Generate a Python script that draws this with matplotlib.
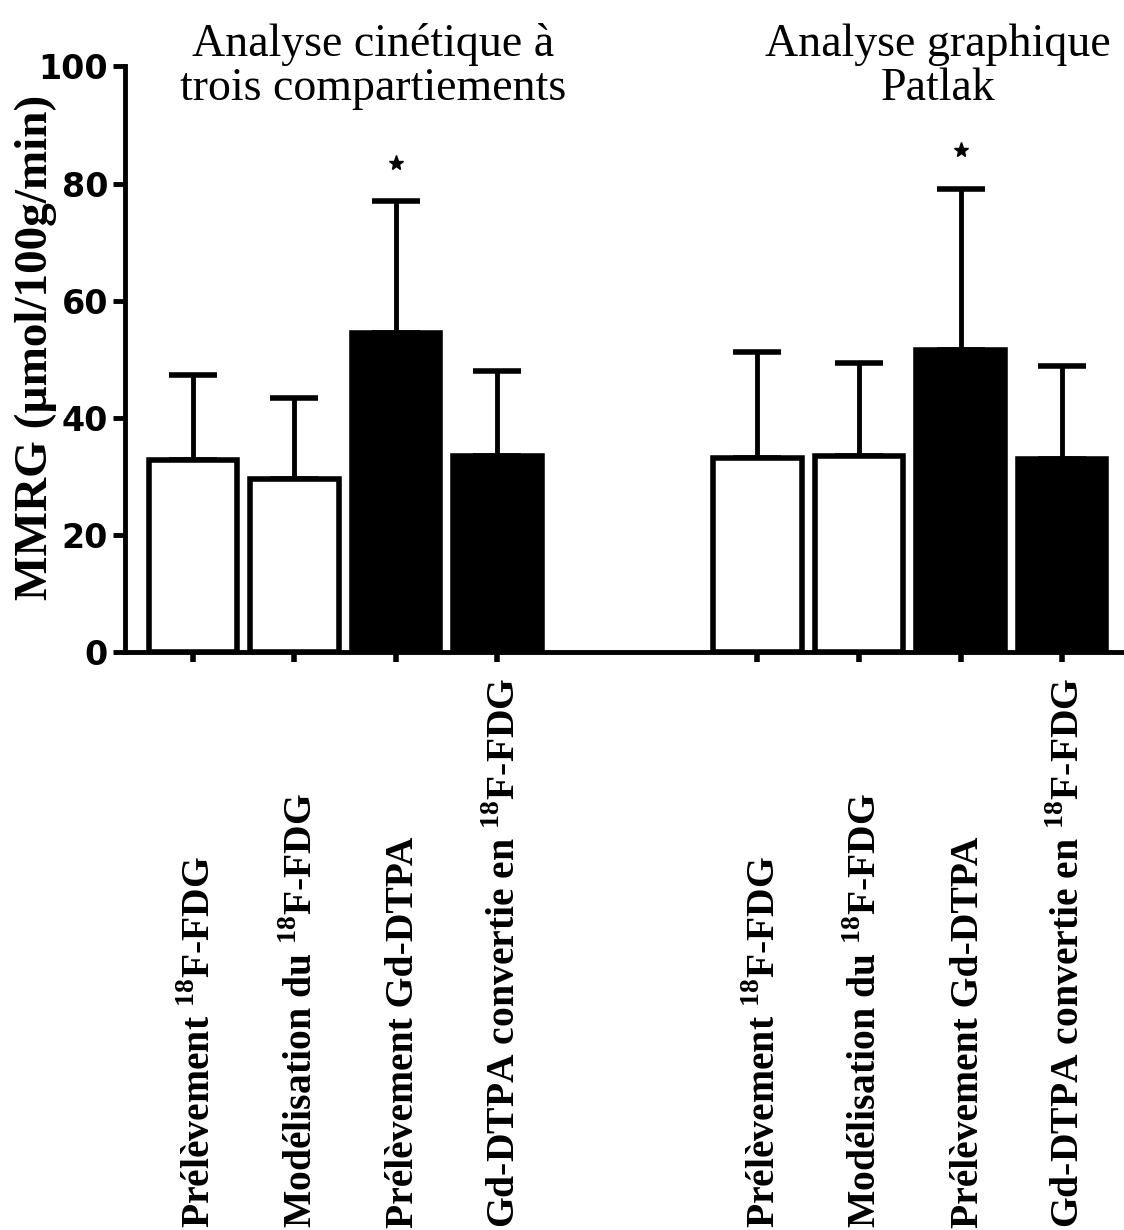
import numpy as np
import matplotlib
matplotlib.use("Agg")
import matplotlib.pyplot as plt
import matplotlib.transforms as mtransforms

# data (MMRG, µmol/100g/min)
groups = ["Analyse cinétique à\ntrois compartiements", "Analyse graphique\nPatlak"]
methods = [
    "Prélèvement $^{\\mathrm{18}}$F-FDG",
    "Modélisation du $^{\\mathrm{18}}$F-FDG",
    "Prélèvement Gd-DTPA",
    "Gd-DTPA convertie en $^{\\mathrm{18}}$F-FDG",
]
means_3comp = [32.7, 29.5, 54.4, 33.5]
sd_3comp = [14.6, 13.8, 22.6, 14.5]
means_patlak = [33.1, 33.5, 51.5, 33.0]
sd_patlak = [18.1, 15.8, 27.5, 15.9]
fill_colors = ["white", "white", "black", "black"]
star_method = 2
star_y = [83.5, 85.7]

plt.rcParams["mathtext.fontset"] = "custom"
plt.rcParams["mathtext.rm"] = "Liberation Serif:bold"
plt.rcParams["mathtext.bf"] = "Liberation Serif:bold"

fig = plt.figure(figsize=(11.24, 12.30), dpi=100)
ax = fig.add_axes([0.111, 0.470, 0.889, 0.476])

group_offset = 5.56
all_means = [means_3comp, means_patlak]
all_sd = [sd_3comp, sd_patlak]
trans = mtransforms.blended_transform_factory(ax.transData, fig.transFigure)
positions = []
for g in range(2):
    x = np.arange(len(methods)) + g * group_offset
    positions.extend(x)
    ax.bar(x, all_means[g], width=0.87, color=fill_colors, edgecolor="black",
           linewidth=4, zorder=2)
    ax.errorbar(x, all_means[g], yerr=[np.zeros(len(x)), all_sd[g]], fmt="none",
                ecolor="black", elinewidth=3.5, capsize=17, capthick=4, zorder=1)
    ax.plot(x[star_method], star_y[g], marker="*", color="black", markersize=11)
    ax.text(x.mean() + 0.28, 1.0, groups[g], transform=ax.get_xaxis_transform(),
            ha="center", va="center", fontsize=33, family="Liberation Serif",
            linespacing=1.05)
    # labels sit at the bottom of the figure, reading upward
    for xi, lab in zip(x, methods):
        ax.text(xi + 0.17, 0.002, lab, transform=trans, rotation=90,
                rotation_mode="anchor", ha="left", va="baseline",
                fontsize=28.5, fontweight="bold", family="Liberation Serif")

ax.set_xlim(-0.67, 3 + group_offset + 0.61)
ax.set_ylim(0, 100)
ax.set_yticks(np.arange(0, 101, 20))
ax.set_xticks(positions)
ax.set_xticklabels([""] * len(positions))
for lab in ax.get_yticklabels():
    lab.set_fontfamily("DejaVu Sans")
    lab.set_fontweight("bold")
    lab.set_fontsize(24)
ax.tick_params(axis="y", length=9, width=3.5, pad=3)
ax.tick_params(axis="x", length=7, width=4)

ax.spines["top"].set_visible(False)
ax.spines["right"].set_visible(False)
ax.spines["left"].set_linewidth(3.5)
ax.spines["bottom"].set_linewidth(3.5)

ax.set_ylabel("MMRG (µmol/100g/min)", fontsize=34, fontweight="bold",
              family="Liberation Serif")
ax.yaxis.set_label_coords(-0.068, 0.52)

plt.savefig("out.png", dpi=100)
